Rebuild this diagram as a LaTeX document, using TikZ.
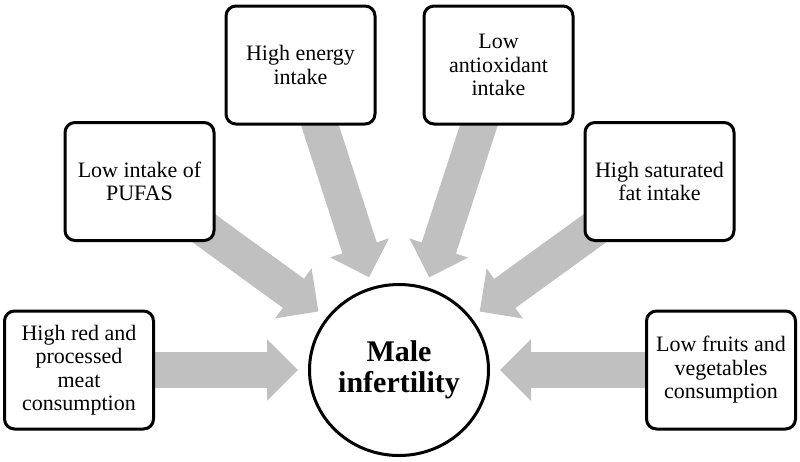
\documentclass[tikz,border=0pt]{standalone}
\usepackage{fontspec}
\setmainfont{Liberation Serif}
\usetikzlibrary{arrows.meta,backgrounds,shapes.geometric}
\definecolor{arrowgray}{RGB}{192,192,192}
\begin{document}
\begin{tikzpicture}[x=1pt,y=-1pt,
  factor/.style={draw=black, line width=3pt, rounded corners=10pt, fill=white,
    minimum width=149pt, minimum height=118pt, inner sep=2pt, align=center,
    font=\fontsize{22}{23.5}\selectfont},
  hubnode/.style={ellipse, draw=black, line width=3pt, fill=white,
    minimum width=179pt, minimum height=171pt, inner sep=0pt, align=center,
    font=\bfseries\fontsize{30}{31}\selectfont},
  bigarrow/.style={draw=arrowgray, line width=36pt,
    -{Triangle[length=31pt,width=60pt]}, shorten >=10pt}
]
\useasboundingbox (0,0) rectangle (800,461);
\node[hubnode] (male) at (399,370) {Male\\infertility};
\node[factor] (meat) at (79,370) {High red and\\processed\\meat\\consumption};
\node[factor] (pufas) at (139.5,181.5) {Low intake of\\PUFAS};
\node[factor] (energy) at (300.5,65) {High energy\\intake};
\node[factor] (antiox) at (498.5,65) {Low\\antioxidant\\intake};
\node[factor] (satfat) at (659.5,181.5) {High saturated\\fat intake};
\node[factor] (fruits) at (721,370) {Low fruits and\\vegetables\\consumption};
\begin{scope}[on background layer]
  \draw[bigarrow] (meat.center) -- (male);
  \draw[bigarrow] (pufas.center) -- (male);
  \draw[bigarrow] (energy.center) -- (male);
  \draw[bigarrow] (antiox.center) -- (male);
  \draw[bigarrow] (satfat.center) -- (male);
  \draw[bigarrow] (fruits.center) -- (male);
\end{scope}
\end{tikzpicture}
\end{document}
